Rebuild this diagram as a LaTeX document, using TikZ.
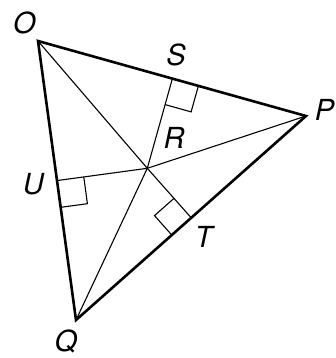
\documentclass[tikz,border=0pt]{standalone}
\usepackage{fontspec}
\setmainfont{TeX Gyre Heros}
\usetikzlibrary{calc}
\begin{document}
\begin{tikzpicture}[x=1pt,y=-1pt,
  side/.style={line width=2.6pt, line join=miter},
  seg/.style={line width=1.1pt},
  ramark/.style={line width=1.1pt},
  lbl/.style={font=\fontsize{29}{29}\selectfont\itshape, inner sep=0pt, text depth=0pt, anchor=center}]
\useasboundingbox (0,0) rectangle (336,358);
\coordinate (O) at (38,41);
\coordinate (P) at (306,116);
\coordinate (Q) at (76,320);
\coordinate (R) at (147.3,168.3);
\coordinate (S) at ($(O)!(R)!(P)$);
\coordinate (U) at ($(O)!(R)!(Q)$);
\coordinate (T) at ($(P)!(R)!(Q)$);
% right angle marks
\coordinate (s1) at ($(S)!27pt!(P)$);
\coordinate (s2) at ($(S)!27pt!(R)$);
\coordinate (u1) at ($(U)!27pt!(Q)$);
\coordinate (u2) at ($(U)!27pt!(R)$);
\coordinate (t1) at ($(T)!26pt!(Q)$);
\coordinate (t2) at ($(T)!26pt!(R)$);
\draw[ramark] (s1) -- ($(s1)+(s2)-(S)$) -- (s2);
\draw[ramark] (u1) -- ($(u1)+(u2)-(U)$) -- (u2);
\draw[ramark] (t1) -- ($(t1)+(t2)-(T)$) -- (t2);
% segments through R
\draw[seg] (O) -- (R) -- (T);
\draw[seg] (P) -- (R) -- (U);
\draw[seg] (Q) -- (R) -- (S);
% triangle
\draw[side] (O) -- (P) -- (Q) -- cycle;
% labels
\node[lbl] (lO) at (24.5,22.5) {O};
\node[lbl] (lS) at (176,55) {S};
\node[lbl] (lP) at (324.5,110) {P};
\node[lbl] (lR) at (174,137.5) {R};
\node[lbl] (lU) at (33.3,184) {U};
\node[lbl] (lT) at (203.7,236.7) {T};
\node[lbl] (lQ) at (66,340.5) {Q};
\end{tikzpicture}
\end{document}
